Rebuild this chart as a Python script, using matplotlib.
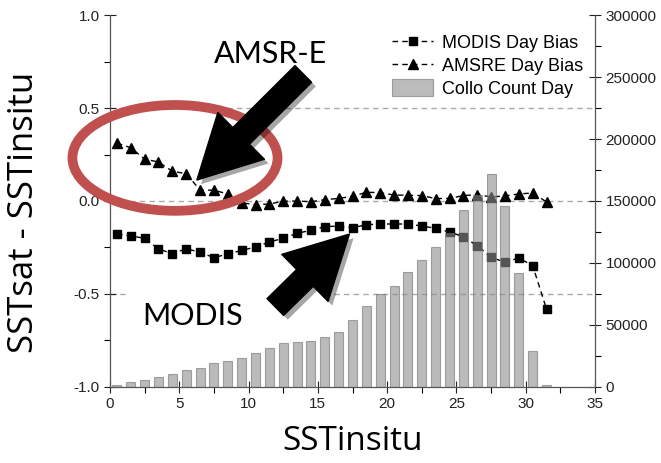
import matplotlib
matplotlib.use("Agg")
import matplotlib.pyplot as plt
from matplotlib.patches import Ellipse, Rectangle
import matplotlib.patheffects as pe

# temperature bins (centres)
sst = [0.5, 1.5, 2.5, 3.5, 4.5, 5.5, 6.5, 7.5, 8.5, 9.5, 10.5, 11.5,
       12.5, 13.5, 14.5, 15.5, 16.5, 17.5, 18.5, 19.5, 20.5, 21.5, 22.5,
       23.5, 24.5, 25.5, 26.5, 27.5, 28.5, 29.5, 30.5, 31.5]

modis_bias = [-0.178, -0.188, -0.201, -0.258, -0.284, -0.257, -0.276, -0.305,
              -0.285, -0.266, -0.248, -0.221, -0.201, -0.174, -0.158, -0.138,
              -0.135, -0.144, -0.128, -0.124, -0.124, -0.124, -0.135, -0.147,
              -0.167, -0.192, -0.241, -0.303, -0.330, -0.307, -0.348, -0.582]

amsre_bias = [0.311, 0.287, 0.225, 0.210, 0.160, 0.147, 0.059, 0.058,
              0.038, -0.010, -0.020, -0.016, -0.002, 0.000, -0.004, 0.007,
              0.014, 0.025, 0.047, 0.045, 0.032, 0.031, 0.029, 0.013,
              0.014, 0.029, 0.034, 0.022, 0.027, 0.038, 0.043, -0.005]

collo_count = [1600, 3550, 5400, 8100, 10500, 13700, 15100, 19100, 21000, 23200,
               27000, 31000, 35000, 35900, 37200, 40400, 44200, 53600, 65400,
               74600, 81300, 92400, 102300, 113100, 123900, 142700, 154900,
               172100, 146200, 91600, 28600, 1600]

label_font = "Open Sans"
note_font = "Lato"
tick_font = "Liberation Sans"

fig = plt.figure(figsize=(6.61, 4.63), dpi=100)
ax = fig.add_axes([0.1664, 0.1648, 0.7338, 0.8022])
ax2 = ax.twinx()

# reference lines
for yv in [0.5, 0.0, -0.5]:
    ax.axhline(yv, color="#aaaaaa", lw=1, ls=(0, (4, 3)), zorder=0.5)

# white box behind the MODIS label (hides part of the -0.5 line)
ax.add_patch(Rectangle((1.45, -0.71), 14.4, 0.27, fc="white", ec="none", zorder=1))

ax.plot(sst, modis_bias, color="black", lw=1, ls=(0, (4, 3)), marker="s",
        ms=5.5, label="MODIS Day Bias", zorder=3)
ax.plot(sst, amsre_bias, color="black", lw=1, ls=(0, (4, 3)), marker="^",
        ms=6.5, label="AMSRE Day Bias", zorder=3)

ax2.bar(sst, collo_count, width=0.65, color="#8e8e8e", alpha=0.6,
        edgecolor="#707070", lw=0.8, label="Collo Count Day")

ax.set_xlim(0, 35)
ax.set_ylim(-1.0, 1.0)
ax2.set_ylim(0, 300000)

ax.set_xticks([0, 5, 10, 15, 20, 25, 30, 35])
ax.set_xticks([2.5, 7.5, 12.5, 17.5, 22.5, 27.5, 32.5], minor=True)
ax.set_yticks([-1.0, -0.5, 0.0, 0.5, 1.0])
ax.set_yticklabels(["-1.0", "-0.5", "0.0", "0.5", "1.0"])
ax.set_yticks([-0.75, -0.25, 0.25, 0.75], minor=True)
ax2.set_yticks([0, 50000, 100000, 150000, 200000, 250000, 300000])
ax2.set_yticks([25000, 75000, 125000, 175000, 225000, 275000], minor=True)

ax.tick_params(axis="both", which="major", direction="inout", length=8,
               width=0.8, labelsize=11, colors="#222222")
ax.tick_params(axis="both", which="minor", direction="out", length=4, width=0.8)
ax.tick_params(top=False, which="both")
ax2.tick_params(axis="y", which="major", direction="inout", length=8,
                width=0.8, labelsize=11, colors="#222222")
ax2.tick_params(axis="y", which="minor", direction="out", length=4, width=0.8)
for lab in ax.get_xticklabels() + ax.get_yticklabels() + ax2.get_yticklabels():
    lab.set_fontfamily(tick_font)
for sp in ax2.spines.values():
    sp.set_color("#555555")
    sp.set_linewidth(0.8)
for sp in ax.spines.values():
    sp.set_color("#333333")
    sp.set_linewidth(0.8)
ax.spines["top"].set_visible(False)
ax2.spines["top"].set_visible(False)

ax.set_xlabel("SSTinsitu", fontsize=24, family=label_font, labelpad=10)
ax.set_ylabel("SSTsat - SSTinsitu", fontsize=25, family=label_font)
ax.yaxis.set_label_coords(-0.142, 0.468)

# legend
h1, l1 = ax.get_legend_handles_labels()
h2, l2 = ax2.get_legend_handles_labels()
leg = ax2.legend(h1 + h2, l1 + l2, loc="upper right", bbox_to_anchor=(0.995, 0.975),
                 frameon=False, prop={"family": tick_font, "size": 13},
                 handlelength=2.3, handleheight=1.1, labelspacing=0.22,
                 handletextpad=0.5, borderaxespad=0.1)

# annotations
ax2.text(0.33, 0.896, "AMSR-E", transform=ax.transAxes, fontsize=22,
         family=note_font, ha="center", va="center", zorder=10)
ax2.text(0.17, 0.19, "MODIS", transform=ax.transAxes, fontsize=22,
         family=note_font, ha="center", va="center", zorder=10)

ell = Ellipse((4.69, 0.232), 14.8, 0.57, fill=False, ec="#c0504d", lw=7,
              clip_on=False, transform=ax.transData, zorder=11)
ax2.add_artist(ell)

shadow = [pe.SimplePatchShadow(offset=(3, -3), alpha=0.35), pe.Normal()]
arrow_style = "simple,head_length=4.5,head_width=4.75,tail_width=1.7"
ax2.annotate("", xy=(6.27, 0.113), xytext=(13.95, 0.684), xycoords=ax.transData,
             textcoords=ax.transData,
             arrowprops=dict(arrowstyle=arrow_style, mutation_scale=10, fc="black",
                             ec="black", shrinkA=0, shrinkB=0,
                             path_effects=shadow), zorder=12)
ax2.annotate("", xy=(17.28, -0.178), xytext=(11.93, -0.571), xycoords=ax.transData,
             textcoords=ax.transData,
             arrowprops=dict(arrowstyle=arrow_style, mutation_scale=10, fc="black",
                             ec="black", shrinkA=0, shrinkB=0,
                             path_effects=shadow), zorder=12)

fig.savefig("out.png", dpi=100)
